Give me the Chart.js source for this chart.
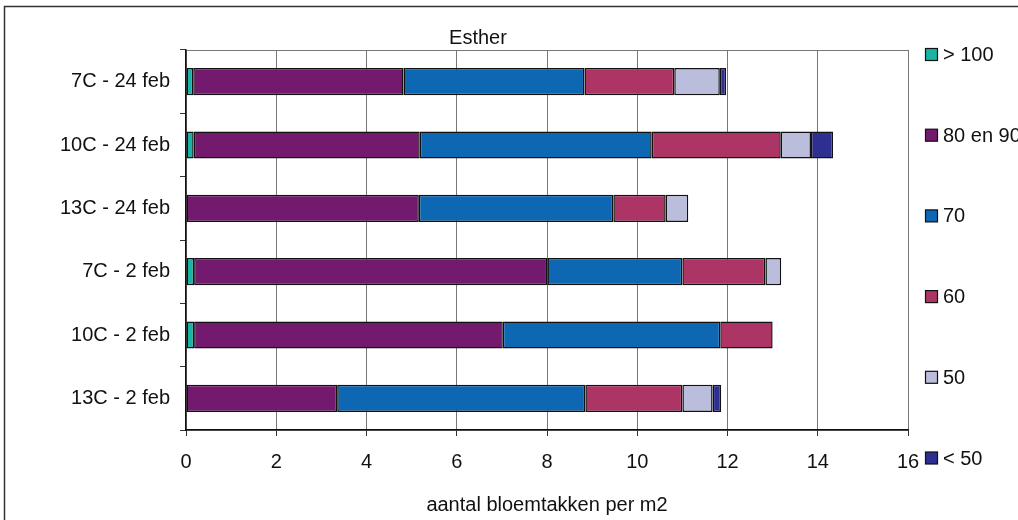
<!DOCTYPE html>
<html>
<head>
<meta charset="utf-8">
<script src="https://cdn.jsdelivr.net/npm/chart.js@4"></script>
<style>
  html, body { margin: 0; padding: 0; background: #fff; }
  #wrap { width: 1018px; height: 520px; }
</style>
</head>
<body>
<div id="wrap"><canvas id="barChart" width="1018" height="520"></canvas></div>
<script>
    const categories = ['7C - 24 feb', '10C - 24 feb', '13C - 24 feb', '7C - 2 feb', '10C - 2 feb', '13C - 2 feb'];

    // bloemtakken per m2, per lengteklasse
    const over100   = [0.16, 0.17, 0,    0.18, 0.18, 0];
    const from80to90 = [4.66, 5.01, 5.16, 7.83, 6.84, 3.35];
    const len70     = [4.01, 5.14, 4.31, 2.99, 4.82, 5.50];
    const len60     = [1.99, 2.86, 1.16, 1.84, 1.16, 2.15];
    const len50     = [1.01, 0.67, 0.50, 0.35, 0,    0.67];
    const under50   = [0.14, 0.49, 0,    0,    0,    0.19];

    const seriesLabels = ['> 100', '80 en 90', '70', '60', '50', '< 50'];
    const seriesData = [over100, from80to90, len70, len60, len50, under50];
    const seriesColors = ['#1ab3a6', '#73196e', '#0e67b2', '#ad3565', '#bbbddd', '#2e3091'];

    const xTicks = [0, 2, 4, 6, 8, 10, 12, 14, 16];

    const FONT = 'Liberation Sans, Arial, sans-serif';

    // ---------------- Helper: frame, title, legend ----------------
    const decorations = {
        id: 'decorations',
        beforeDraw(chart) {
            const ctx = chart.ctx;
            const a = chart.chartArea;
            ctx.save();
            ctx.strokeStyle = '#333';
            ctx.lineWidth = 1.5;
            ctx.strokeRect(4.5, 6.5, 1200, 700);
            ctx.strokeStyle = '#777';
            ctx.lineWidth = 1;
            ctx.strokeRect(a.left + 0.5, a.top + 0.5, a.right - a.left, a.bottom - a.top);
            ctx.restore();
        },
        afterDraw(chart) {
            const ctx = chart.ctx;
            ctx.save();
            ctx.fillStyle = '#111';
            ctx.font = '20px ' + FONT;
            ctx.textAlign = 'center';
            ctx.textBaseline = 'middle';
            ctx.fillText('Esther', 478, 38);

            ctx.textAlign = 'left';
            chart.data.datasets.forEach((ds, i) => {
                const y = 54.5 + i * 80.7;
                ctx.fillStyle = ds.backgroundColor;
                ctx.fillRect(925.5, y - 6, 12, 12);
                ctx.strokeStyle = '#111';
                ctx.lineWidth = 1.2;
                ctx.strokeRect(925.5, y - 6, 12, 12);
                ctx.fillStyle = '#111';
                ctx.fillText(ds.label, 943, y + 1);
            });
            ctx.restore();
        }
    };

    function prepareChart() {
        const datasets = seriesLabels.map((label, i) => ({
            label: label,
            data: seriesData[i].map(v => v === 0 ? null : v),
            backgroundColor: seriesColors[i],
            borderColor: '#111',
            borderWidth: 1.5,
            borderSkipped: false,
            barPercentage: 0.43,
            categoryPercentage: 1
        }));

        const ctx = document.getElementById('barChart').getContext('2d');
        new Chart(ctx, {
            type: 'bar',
            data: { labels: categories, datasets: datasets },
            plugins: [decorations],
            options: {
                indexAxis: 'y',
                responsive: false,
                animation: false,
                layout: { padding: { top: 50, right: 110, bottom: 0, left: 0 } },
                plugins: {
                    legend: { display: false },
                    tooltip: { enabled: false }
                },
                scales: {
                    x: {
                        stacked: true,
                        min: 0,
                        max: 16,
                        afterBuildTicks: scale => { scale.ticks = xTicks.map(v => ({ value: v })); },
                        afterFit: scale => { scale.height = 90; },
                        grid: { color: '#777', tickColor: '#333', tickLength: 6, lineWidth: 1 },
                        border: { color: '#111', width: 1.5 },
                        ticks: { color: '#111', font: { family: FONT, size: 20 }, padding: 14, maxRotation: 0 },
                        title: {
                            display: true,
                            text: 'aantal bloemtakken per m2',
                            color: '#111',
                            font: { family: FONT, size: 20 },
                            padding: { top: 0, bottom: 3 }
                        }
                    },
                    y: {
                        stacked: true,
                        afterFit: scale => { scale.width = 186; },
                        grid: { offset: true, drawOnChartArea: false, tickColor: '#333', tickLength: 6 },
                        border: { color: '#111', width: 1.5 },
                        ticks: { color: '#111', font: { family: FONT, size: 20 }, padding: 10 }
                    }
                }
            }
        });
    }

    prepareChart();
</script>
</body>
</html>
